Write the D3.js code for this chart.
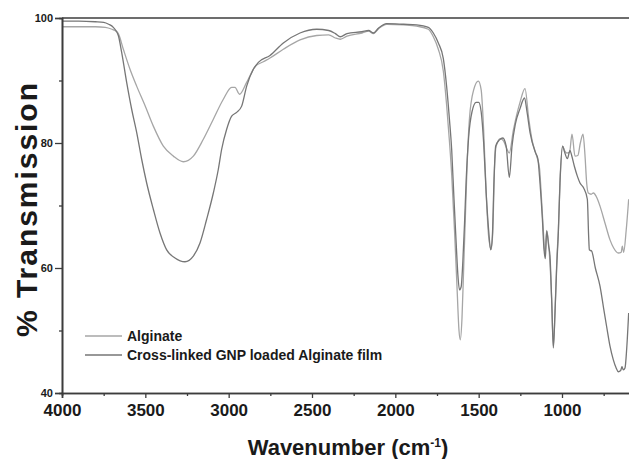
<!DOCTYPE html>
<html>
<head>
<meta charset="utf-8">
<script src="https://cdn.jsdelivr.net/npm/d3@7"></script>
<style>
  body { margin: 0; background: #fff; }
  text { font-family: "Liberation Sans", Arial, sans-serif; font-weight: bold; fill: #1a1a1a; }
</style>
</head>
<body>
<svg id="chart" width="629" height="459"></svg>
<script>
// tick values
var xMajorTicks = [4000, 3500, 3000, 2500, 2000, 1500, 1000];
var xMinorTicks = [3750, 3250, 2750, 2250, 1750, 1250, 750];
var yMajorTicks = [40, 60, 80, 100];
var yMinorTicks = [50, 70, 90];

var seriesNames = ["Alginate", "Cross-linked GNP loaded Alginate film"];
var seriesColors = ["#a6a6a6", "#767676"];

// [wavenumber, % transmission]
var alginate = [
  [4000, 98.6], [3900, 98.6], [3800, 98.6], [3740, 98.5], [3700, 98.2], [3682, 98.0],
  [3662, 97.5], [3632, 95.0], [3592, 91.8], [3552, 89.1], [3502, 86.0], [3452, 82.7],
  [3392, 79.5], [3332, 77.9], [3272, 77.0], [3212, 77.9], [3152, 80.6], [3092, 83.8],
  [3032, 87.0], [2982, 88.9], [2962, 88.9], [2935, 87.8], [2892, 89.7], [2842, 92.2],
  [2792, 93.0], [2752, 93.6], [2672, 95.0], [2572, 96.5], [2472, 97.2], [2400, 97.3],
  [2360, 96.8], [2330, 96.6], [2290, 97.1], [2200, 97.6], [2160, 97.9], [2132, 97.5],
  [2100, 98.3], [2052, 99.0], [1950, 98.9], [1872, 98.7], [1802, 98.2], [1772, 97.0],
  [1742, 95.0], [1712, 91.5], [1692, 86.0], [1676, 80.5], [1662, 75.0], [1645, 66.0],
  [1630, 57.0], [1618, 50.0], [1610, 48.5], [1600, 52.0], [1590, 60.0], [1580, 68.0],
  [1570, 76.0], [1555, 84.0], [1530, 88.5], [1502, 89.9], [1485, 88.5], [1470, 82.0],
  [1455, 72.0], [1440, 65.0], [1425, 63.0], [1415, 66.0], [1405, 76.0], [1395, 79.5],
  [1370, 80.7], [1350, 80.3], [1330, 79.0], [1316, 78.4], [1292, 82.0], [1252, 86.5],
  [1222, 88.7], [1200, 84.0], [1180, 80.5], [1152, 77.9], [1135, 76.0], [1125, 72.0],
  [1112, 66.0], [1102, 62.0], [1092, 66.0], [1075, 62.0], [1062, 55.0], [1052, 47.5],
  [1042, 53.0], [1030, 62.0], [1022, 66.0], [1012, 74.0], [996, 79.5], [985, 78.8],
  [972, 78.4], [955, 78.5], [940, 81.4], [922, 77.9], [905, 78.0], [890, 80.0],
  [874, 81.4], [862, 78.0], [852, 73.6], [842, 72.0], [825, 71.8], [812, 72.0],
  [790, 71.2], [772, 69.9], [740, 67.0], [712, 64.5], [690, 63.2], [662, 62.4],
  [645, 62.5], [638, 63.5], [630, 62.5], [615, 66.0], [600, 71.0]
];

var crosslinked = [
  [4000, 99.5], [3900, 99.5], [3800, 99.4], [3750, 99.3], [3720, 99.0], [3692, 98.5],
  [3662, 97.2], [3642, 94.5], [3612, 89.7], [3582, 85.4], [3552, 81.7], [3522, 77.4],
  [3492, 73.6], [3452, 69.4], [3412, 65.6], [3372, 62.9], [3322, 61.6], [3262, 61.0],
  [3212, 61.9], [3172, 64.0], [3132, 67.8], [3092, 72.0], [3062, 75.8], [3042, 79.0],
  [3012, 82.2], [2982, 84.3], [2952, 84.9], [2922, 85.9], [2892, 89.1], [2852, 91.8],
  [2822, 92.9], [2752, 94.0], [2672, 96.0], [2572, 97.6], [2472, 98.2], [2400, 98.0],
  [2360, 97.5], [2330, 97.0], [2290, 97.5], [2200, 97.8], [2160, 98.0], [2132, 97.6],
  [2100, 98.4], [2052, 99.1], [1950, 99.0], [1872, 98.9], [1802, 98.5], [1772, 97.6],
  [1742, 96.0], [1712, 93.5], [1692, 89.0], [1676, 84.0], [1662, 79.0], [1648, 71.0],
  [1635, 64.0], [1625, 59.0], [1615, 56.5], [1605, 57.0], [1595, 61.0], [1585, 67.0],
  [1575, 74.0], [1560, 81.0], [1540, 85.0], [1515, 86.5], [1500, 86.5], [1485, 85.0],
  [1470, 80.0], [1455, 72.0], [1440, 66.0], [1428, 62.9], [1418, 65.0], [1408, 74.0],
  [1398, 79.5], [1375, 80.5], [1355, 80.8], [1335, 79.5], [1316, 74.5], [1300, 79.5],
  [1280, 83.0], [1252, 85.5], [1225, 87.2], [1210, 85.0], [1192, 81.7], [1160, 78.5],
  [1145, 77.5], [1132, 73.6], [1118, 68.0], [1108, 63.0], [1100, 61.5], [1092, 65.9],
  [1080, 63.5], [1072, 61.9], [1062, 54.9], [1052, 47.2], [1042, 52.8], [1032, 60.0],
  [1022, 65.6], [1012, 73.6], [996, 79.5], [985, 78.6], [968, 77.5], [952, 78.8],
  [942, 78.0], [925, 76.2], [908, 74.7], [892, 73.6], [870, 72.8], [848, 71.0],
  [840, 65.0], [836, 62.9], [822, 62.7], [800, 60.0], [772, 57.1], [750, 53.5],
  [732, 50.6], [712, 47.5], [692, 45.3], [675, 44.0], [662, 43.4], [648, 43.6],
  [640, 44.2], [632, 43.7], [622, 44.0], [612, 47.0], [600, 52.8]
];

var svg = d3.select("#chart");

// plot box (right side runs past the edge of the picture)
var plotLeft = 62, plotTop = 18, plotBottom = 393, plotRight = 662;

var x = d3.scaleLinear().domain([4000, 400]).range([plotLeft, plotRight]);
var y = d3.scaleLinear().domain([40, 100]).range([plotBottom, plotTop]);

var axisColor = "#3c3c3c";

// curves
var line = d3.line()
  .x(function(d){ return x(d[0]); })
  .y(function(d){ return y(d[1]); })
  .curve(d3.curveMonotoneX);

[alginate, crosslinked].forEach(function(s, i){
  svg.append("path")
    .datum(s)
    .attr("fill", "none")
    .attr("stroke", seriesColors[i])
    .attr("stroke-width", 1.3)
    .attr("d", line);
});

// top border
svg.append("line")
  .attr("x1", plotLeft).attr("x2", plotRight)
  .attr("y1", y(100)).attr("y2", y(100))
  .attr("stroke", axisColor).attr("stroke-width", 1.6);

// x axis
var xAxis = svg.append("g")
  .attr("transform", "translate(0," + plotBottom + ")")
  .call(d3.axisBottom(x).tickValues(xMajorTicks).tickSize(5).tickPadding(6).tickFormat(d3.format("d")));
var xMinor = svg.append("g")
  .attr("transform", "translate(0," + plotBottom + ")")
  .call(d3.axisBottom(x).tickValues(xMinorTicks).tickSize(3).tickFormat(""));

// y axis
var yAxis = svg.append("g")
  .attr("transform", "translate(" + plotLeft + ",0)")
  .call(d3.axisLeft(y).tickValues(yMajorTicks).tickSize(7).tickPadding(2).tickFormat(d3.format("d")));
var yMinor = svg.append("g")
  .attr("transform", "translate(" + plotLeft + ",0)")
  .call(d3.axisLeft(y).tickValues(yMinorTicks).tickSize(3).tickFormat(""));

[xAxis, xMinor, yAxis, yMinor].forEach(function(g){
  g.select(".domain").attr("stroke", axisColor).attr("stroke-width", 1.6);
  g.selectAll(".tick line").attr("stroke", axisColor).attr("stroke-width", 1.3);
});
xAxis.selectAll(".tick text")
  .style("font-size", "17px").style("font-family", "Liberation Sans, Arial, sans-serif")
  .style("font-weight", "bold").attr("fill", "#1a1a1a");
yAxis.selectAll(".tick text")
  .style("font-size", "11px").style("font-family", "Liberation Sans, Arial, sans-serif")
  .style("font-weight", "bold").attr("fill", "#1a1a1a");

// axis titles
var xTitle = svg.append("text")
  .attr("x", 348).attr("y", 455)
  .attr("text-anchor", "middle")
  .style("font-size", "22px");
xTitle.append("tspan").text("Wavenumber (cm");
xTitle.append("tspan").attr("dy", -8).style("font-size", "12px").text("-1");
xTitle.append("tspan").attr("dy", 8).text(")");

svg.append("text")
  .attr("transform", "translate(37,210) rotate(-90)")
  .attr("text-anchor", "middle")
  .attr("textLength", 254)
  .attr("lengthAdjust", "spacing")
  .style("font-size", "30px")
  .text("% Transmission");

// legend
var legend = svg.append("g");
seriesNames.forEach(function(name, i){
  var ly = 336 + i * 19;
  legend.append("line")
    .attr("x1", 85).attr("x2", 122)
    .attr("y1", ly).attr("y2", ly)
    .attr("stroke", seriesColors[i]).attr("stroke-width", 1.3);
  legend.append("text")
    .attr("x", 127).attr("y", ly + 5)
    .style("font-size", "14px")
    .text(name);
});
</script>
</body>
</html>
